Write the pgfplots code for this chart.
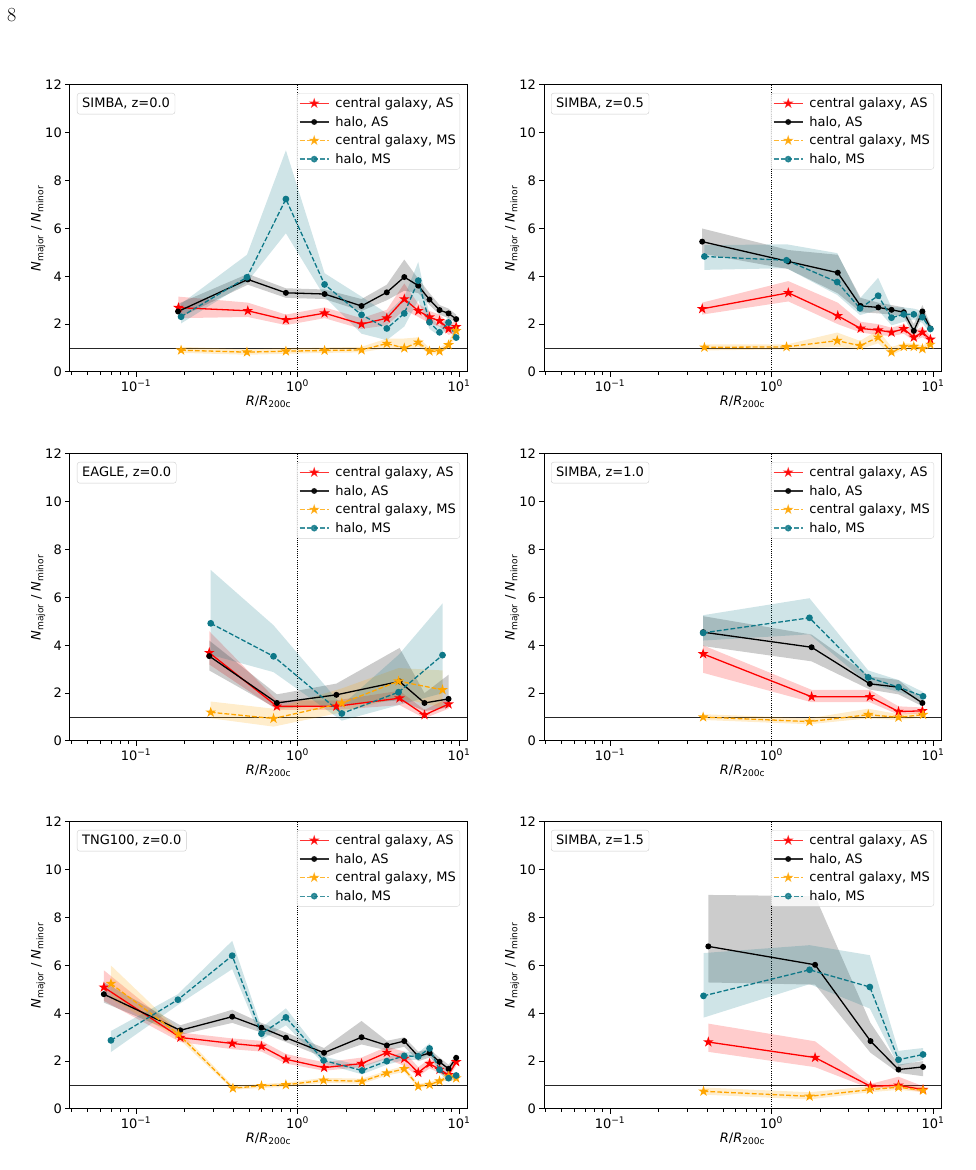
\documentclass[border=0pt]{standalone}
\usepackage{fontspec}
\newfontfamily\dejavu{DejaVu Sans}
\usepackage{pgfplots}
\pgfplotsset{compat=1.18}

\definecolor{mplorange}{RGB}{255,165,0}
\definecolor{tealc}{RGB}{14,120,136}

\pgfdeclareplotmark{fstar}{%
 \pgfpathmoveto{\pgfpointpolar{90}{\pgfplotmarksize}}%
 \pgfpathlineto{\pgfpointpolar{126}{0.382*\pgfplotmarksize}}%
 \pgfpathlineto{\pgfpointpolar{162}{\pgfplotmarksize}}%
 \pgfpathlineto{\pgfpointpolar{198}{0.382*\pgfplotmarksize}}%
 \pgfpathlineto{\pgfpointpolar{234}{\pgfplotmarksize}}%
 \pgfpathlineto{\pgfpointpolar{270}{0.382*\pgfplotmarksize}}%
 \pgfpathlineto{\pgfpointpolar{306}{\pgfplotmarksize}}%
 \pgfpathlineto{\pgfpointpolar{342}{0.382*\pgfplotmarksize}}%
 \pgfpathlineto{\pgfpointpolar{18}{\pgfplotmarksize}}%
 \pgfpathlineto{\pgfpointpolar{54}{0.382*\pgfplotmarksize}}%
 \pgfpathclose
 \pgfusepathqfillstroke
}

\newcommand{\chartfont}{\dejavu\fontsize{13}{15}\selectfont}

\pgfplotsset{
 legend image code/.code={\draw[mark repeat=2,mark phase=2,#1] plot coordinates {(0pt,0pt) (14.5pt,0pt) (29pt,0pt)};},
}

% band: colour, polygon (upper edge left->right, lower edge right->left)
\newcommand{\band}[2]{\addplot[fill=#1, fill opacity=0.2, draw=none, forget plot] coordinates {#2};}
\newcommand{\lcr}[1]{\addplot[red, line width=1.3pt, mark=fstar, mark size=3.5pt] coordinates {#1};
 \addlegendentry{central galaxy, AS}}
\newcommand{\lhr}[1]{\addplot[black, line width=1.3pt, mark=*, mark size=2.3pt] coordinates {#1};
 \addlegendentry{halo, AS}}
\newcommand{\lcm}[1]{\addplot[mplorange, line width=1.3pt, dash pattern=on 4.8pt off 2.1pt, mark=fstar, mark size=3.5pt, mark options={solid}] coordinates {#1};
 \addlegendentry{central galaxy, MS}}
\newcommand{\lhm}[1]{\addplot[tealc, line width=1.3pt, dash pattern=on 4.8pt off 2.1pt, mark=*, mark size=2.7pt, mark options={solid}] coordinates {#1};
 \addlegendentry{halo, MS}}

\newcommand{\panel}[3]{%
\begin{axis}[
  at={(#1)}, anchor=south west,
  width=397pt, height=287pt, scale only axis,
  xmode=log, xmin=0.039, xmax=11.2, ymin=0, ymax=12,
  ytick={0,2,4,6,8,10,12},
  yticklabels={0,2,4,6,8,10,12},
  xtick={0.1,1,10},
  xticklabels={10\textsuperscript{−1},10\textsuperscript{0},10\textsuperscript{1}},
  minor xtick={0.04,0.05,0.06,0.07,0.08,0.09,0.2,0.3,0.4,0.5,0.6,0.7,0.8,0.9,2,3,4,5,6,7,8,9},
  tick align=outside, tick pos=left,
  major tick length=4.7pt, minor tick length=2.7pt,
  major tick style={line width=1pt, black},
  minor tick style={line width=0.8pt, black},
  axis line style={line width=1pt},
  ticklabel style={font=\chartfont},
  label style={font=\chartfont},
  xlabel={\textit{R}/\textit{R}\textsubscript{200c}},
  ylabel={\textit{N}\textsubscript{major} / \textit{N}\textsubscript{minor}},
  xlabel style={at={(axis description cs:0.5,-0.1045)}, anchor=center},
  ylabel style={at={(axis description cs:-0.080,0.5)}, anchor=center},
  legend style={at={(0.9824,0.972)}, anchor=north east, draw=black!20,
    rounded corners=2.5pt, fill=white, fill opacity=0.8, draw opacity=0.8, text opacity=1,
    font=\chartfont, inner xsep=2pt, inner ysep=2.5pt, row sep=3.2pt,
    /tikz/every odd column/.append style={column sep=4pt}},
  legend cell align=left,
]
 \addplot[forget plot, black!85, line width=1pt] coordinates {(0.039,1) (11.2,1)};
 \addplot[forget plot, black, line width=0.8pt, dash pattern=on 1pt off 1.2pt] coordinates {(1,0) (1,12)};
 #3
 \node[anchor=north west, draw=black!20, rounded corners=2.5pt, fill=white, fill opacity=0.8,
   text opacity=1, font=\chartfont, inner xsep=5pt, inner ysep=4.5pt, text height=9.5pt, text depth=2.5pt,
   xshift=7pt, yshift=-8pt] at (rel axis cs:0,1) {#2};
\end{axis}}

\begin{document}
\begin{tikzpicture}
\useasboundingbox (0,0) rectangle (975pt,1170pt);
\node[anchor=base west, font=\fontsize{20}{24}\selectfont, inner sep=0pt] at (7pt,1148pt) {8};

% ---------- SIMBA z=0.0 ----------
\panel{70pt,798pt}{SIMBA, z=0.0}{
 \band{red}{(0.183,3.15) (0.492,2.90) (0.847,2.40) (1.47,2.70) (2.49,2.25) (3.57,2.60) (4.58,3.70) (5.59,2.85) (6.56,2.55) (7.57,2.40) (8.61,2.05) (9.6,2.10) (9.6,1.65) (8.61,1.55) (7.57,1.90) (6.56,2.05) (5.59,2.30) (4.58,2.60) (3.57,1.95) (2.49,1.80) (1.47,2.25) (0.847,1.96) (0.492,2.30) (0.183,2.25)}
 \band{black}{(0.182,2.85) (0.492,4.10) (0.847,3.50) (1.47,3.45) (2.49,3.05) (3.57,3.65) (4.58,4.70) (5.59,3.90) (6.56,3.30) (7.57,2.80) (8.61,2.65) (9.6,2.40) (9.6,2.05) (8.61,2.25) (7.57,2.40) (6.56,2.80) (5.59,3.30) (4.58,3.40) (3.57,3.00) (2.49,2.55) (1.47,3.05) (0.847,3.10) (0.492,3.65) (0.182,2.25)}
 \band{mplorange}{(0.19,1.05) (0.486,0.95) (0.847,1.00) (1.47,1.02) (2.49,1.05) (3.57,1.40) (4.58,1.40) (5.59,1.45) (6.56,1.00) (7.57,1.00) (8.61,1.30) (9.6,1.90) (9.6,1.50) (8.61,1.00) (7.57,0.77) (6.56,0.77) (5.59,1.05) (4.58,0.88) (3.57,1.00) (2.49,0.82) (1.47,0.80) (0.847,0.76) (0.486,0.72) (0.19,0.80)}
 \band{tealc}{(0.19,2.85) (0.486,4.90) (0.847,9.27) (1.47,4.13) (2.49,3.15) (3.57,2.45) (4.58,3.15) (5.59,4.60) (6.56,2.40) (7.57,1.90) (8.61,2.30) (9.6,1.70) (9.6,1.30) (8.61,1.80) (7.57,1.50) (6.56,1.80) (5.59,3.00) (4.58,1.90) (3.57,1.33) (2.49,1.60) (1.47,3.15) (0.847,5.80) (0.486,3.75) (0.19,2.03)}
 \lcr{(0.183,2.69) (0.492,2.56) (0.847,2.18) (1.47,2.46) (2.49,2.00) (3.57,2.25) (4.58,3.05) (5.59,2.56) (6.56,2.29) (7.57,2.14) (8.61,1.80) (9.6,1.89)}
 \lhr{(0.182,2.53) (0.492,3.87) (0.847,3.31) (1.47,3.26) (2.49,2.76) (3.57,3.33) (4.58,3.97) (5.59,3.61) (6.56,3.03) (7.57,2.59) (8.61,2.45) (9.6,2.21)}
 \lcm{(0.19,0.91) (0.486,0.83) (0.847,0.87) (1.47,0.90) (2.49,0.92) (3.57,1.19) (4.58,1.00) (5.59,1.24) (6.56,0.87) (7.57,0.87) (8.61,1.13) (9.6,1.72)}
 \lhm{(0.19,2.31) (0.486,3.96) (0.847,7.23) (1.47,3.66) (2.49,2.39) (3.57,1.82) (4.58,2.45) (5.59,3.82) (6.56,2.08) (7.57,1.66) (8.61,2.07) (9.6,1.44)}
}

% ---------- SIMBA z=0.5 ----------
\panel{544pt,798pt}{SIMBA, z=0.5}{
 \band{red}{(0.372,2.90) (1.27,3.80) (2.57,2.90) (3.56,2.10) (4.58,2.00) (5.53,1.85) (6.59,2.00) (7.6,1.70) (8.59,1.90) (9.63,1.50) (9.63,1.25) (8.59,1.45) (7.6,1.30) (6.59,1.60) (5.53,1.50) (4.58,1.55) (3.56,1.65) (2.57,2.00) (1.27,2.95) (0.372,2.40)}
 \band{black}{(0.372,6.00) (1.27,5.10) (2.57,4.90) (3.56,3.10) (4.58,2.90) (5.53,2.80) (6.59,2.70) (7.6,2.00) (8.59,2.80) (9.63,2.00) (9.63,1.70) (8.59,2.30) (7.6,1.50) (6.59,2.30) (5.53,2.40) (4.58,2.45) (3.56,2.50) (2.57,3.29) (1.27,4.30) (0.372,4.95)}
 \band{mplorange}{(0.384,1.15) (1.238,1.15) (2.55,1.65) (3.53,1.30) (4.57,1.75) (5.53,1.05) (6.59,1.20) (7.6,1.20) (8.59,1.10) (9.63,1.30) (9.63,1.00) (8.59,0.88) (7.6,0.95) (6.59,0.95) (5.53,0.70) (4.57,1.20) (3.53,0.95) (2.55,1.05) (1.238,0.95) (0.384,0.90)}
 \band{tealc}{(0.384,5.30) (1.238,5.34) (2.55,4.97) (3.53,3.08) (4.57,3.94) (5.53,2.70) (6.59,2.70) (7.6,2.65) (8.59,2.55) (9.63,2.00) (9.63,1.60) (8.59,2.05) (7.6,2.20) (6.59,2.10) (5.53,1.95) (4.57,2.59) (3.53,2.38) (2.55,3.22) (1.238,4.34) (0.384,4.27)}
 \lcr{(0.372,2.64) (1.27,3.31) (2.57,2.35) (3.56,1.82) (4.58,1.75) (5.53,1.66) (6.59,1.80) (7.6,1.45) (8.59,1.66) (9.63,1.36)}
 \lhr{(0.372,5.45) (1.27,4.62) (2.57,4.15) (3.56,2.76) (4.58,2.70) (5.53,2.60) (6.59,2.50) (7.6,1.72) (8.59,2.53) (9.63,1.82)}
 \lcm{(0.384,1.03) (1.238,1.05) (2.55,1.31) (3.53,1.10) (4.57,1.45) (5.53,0.83) (6.59,1.06) (7.6,1.06) (8.59,0.97) (9.63,1.15)}
 \lhm{(0.384,4.83) (1.238,4.67) (2.55,3.76) (3.53,2.66) (4.57,3.19) (5.53,2.27) (6.59,2.41) (7.6,2.41) (8.59,2.29) (9.63,1.80)}
}

% ---------- EAGLE z=0.0 ----------
\panel{70pt,429pt}{EAGLE, z=0.0}{
 \band{red}{(0.284,4.59) (0.745,1.70) (1.74,1.70) (4.28,2.10) (6.11,1.30) (8.61,1.80) (8.61,1.35) (6.11,0.95) (4.28,1.50) (1.74,1.30) (0.745,1.30) (0.284,3.20)}
 \band{black}{(0.284,4.20) (0.745,1.95) (1.74,2.40) (4.28,3.89) (6.11,2.00) (8.61,2.77) (8.61,1.40) (6.11,1.25) (4.28,1.70) (1.74,1.50) (0.745,1.35) (0.284,2.95)}
 \band{mplorange}{(0.29,1.65) (0.71,1.35) (1.88,2.20) (4.22,3.05) (7.9,2.95) (7.9,1.40) (4.22,1.80) (1.88,1.20) (0.71,0.60) (0.29,0.95)}
 \band{tealc}{(0.29,7.15) (0.71,4.84) (1.88,1.50) (4.22,3.60) (7.9,5.75) (7.9,2.00) (4.22,1.50) (1.88,0.85) (0.71,2.88) (0.29,3.60)}
 \lcr{(0.284,3.69) (0.745,1.45) (1.74,1.45) (4.28,1.79) (6.11,1.09) (8.61,1.54)}
 \lhr{(0.284,3.55) (0.745,1.59) (1.74,1.93) (4.28,2.49) (6.11,1.59) (8.61,1.76)}
 \lcm{(0.29,1.20) (0.71,0.94) (1.88,1.58) (4.22,2.50) (7.9,2.14)}
 \lhm{(0.29,4.92) (0.71,3.54) (1.88,1.15) (4.22,2.04) (7.9,3.59)}
}

% ---------- SIMBA z=1.0 ----------
\panel{544pt,429pt}{SIMBA, z=1.0}{
 \band{red}{(0.377,4.00) (1.77,2.14) (4.06,2.14) (6.11,1.45) (8.59,1.40) (8.59,1.15) (6.11,1.10) (4.06,1.62) (1.77,1.62) (0.377,2.85)}
 \band{black}{(0.377,5.22) (1.77,4.45) (4.06,2.70) (6.11,2.55) (8.59,1.75) (8.59,1.45) (6.11,1.95) (4.06,2.15) (1.77,3.33) (0.377,3.97)}
 \band{mplorange}{(0.377,1.12) (1.717,0.95) (3.97,1.35) (6.11,1.12) (8.67,1.22) (8.67,0.98) (6.11,0.88) (3.97,0.95) (1.717,0.70) (0.377,0.88)}
 \band{tealc}{(0.377,5.26) (1.717,5.97) (3.97,2.95) (6.11,2.55) (8.67,2.05) (8.67,1.70) (6.11,2.05) (3.97,2.40) (1.717,4.46) (0.377,4.20)}
 \lcr{(0.377,3.64) (1.77,1.85) (4.06,1.85) (6.11,1.23) (8.59,1.26)}
 \lhr{(0.377,4.55) (1.77,3.92) (4.06,2.39) (6.11,2.25) (8.59,1.59)}
 \lcm{(0.377,1.00) (1.717,0.81) (3.97,1.10) (6.11,0.99) (8.67,1.10)}
 \lhm{(0.377,4.52) (1.717,5.15) (3.97,2.66) (6.11,2.25) (8.67,1.87)}
}

% ---------- TNG100 z=0.0 ----------
\panel{70pt,61pt}{TNG100, z=0.0}{
 \band{red}{(0.0632,5.80) (0.188,3.20) (0.394,2.95) (0.598,2.85) (0.847,2.30) (1.46,1.95) (2.49,2.15) (3.57,2.60) (4.58,2.40) (5.59,1.75) (6.57,2.10) (7.57,1.85) (8.61,1.60) (9.6,2.15) (9.6,1.80) (8.61,1.30) (7.57,1.50) (6.57,1.70) (5.59,1.35) (4.58,1.80) (3.57,2.10) (2.49,1.75) (1.46,1.60) (0.847,1.90) (0.598,2.40) (0.394,2.50) (0.188,2.80) (0.0632,4.52)}
 \band{black}{(0.0632,5.30) (0.188,3.50) (0.394,4.15) (0.598,3.60) (0.847,3.20) (1.46,2.55) (2.49,3.68) (3.57,2.85) (4.58,3.00) (5.59,2.40) (6.57,2.50) (7.57,2.15) (8.61,1.85) (9.6,2.30) (9.6,1.95) (8.61,1.50) (7.57,1.80) (6.57,2.15) (5.59,2.00) (4.58,2.60) (3.57,2.45) (2.49,2.70) (1.46,2.15) (0.847,2.80) (0.598,3.20) (0.394,3.60) (0.188,3.10) (0.0632,4.45)}
 \band{mplorange}{(0.0699,6.00) (0.183,3.30) (0.398,0.97) (0.598,1.05) (0.847,1.10) (1.45,1.30) (2.51,1.27) (3.57,1.60) (4.58,1.80) (5.59,1.05) (6.57,1.12) (7.57,1.27) (8.61,1.50) (9.6,1.40) (9.6,1.20) (8.61,1.25) (7.57,1.07) (6.57,0.93) (5.59,0.88) (4.58,1.55) (3.57,1.40) (2.51,1.05) (1.45,1.10) (0.847,0.92) (0.598,0.88) (0.398,0.80) (0.183,2.95) (0.0699,4.60)}
 \band{tealc}{(0.0699,3.26) (0.1816,4.80) (0.394,7.03) (0.598,3.40) (0.847,4.21) (1.45,2.20) (2.51,1.80) (3.57,2.15) (4.58,2.40) (5.59,2.35) (6.57,2.75) (7.57,1.80) (8.61,1.45) (9.6,1.55) (9.6,1.25) (8.61,1.15) (7.57,1.50) (6.57,2.30) (5.59,2.05) (4.58,2.05) (3.57,1.85) (2.51,1.45) (1.45,1.90) (0.847,3.50) (0.598,2.90) (0.394,5.85) (0.1816,4.35) (0.0699,2.38)}
 \lcr{(0.0632,5.09) (0.188,2.99) (0.394,2.74) (0.598,2.62) (0.847,2.08) (1.46,1.73) (2.49,1.90) (3.57,2.36) (4.58,2.11) (5.59,1.52) (6.57,1.90) (7.57,1.65) (8.61,1.43) (9.6,1.97)}
 \lhr{(0.0632,4.80) (0.188,3.29) (0.394,3.86) (0.598,3.40) (0.847,2.98) (1.46,2.35) (2.49,3.00) (3.57,2.66) (4.58,2.84) (5.59,2.20) (6.57,2.34) (7.57,1.97) (8.61,1.68) (9.6,2.14)}
 \lcm{(0.0699,5.24) (0.183,3.13) (0.398,0.87) (0.598,0.97) (0.847,1.01) (1.45,1.20) (2.51,1.16) (3.57,1.50) (4.58,1.68) (5.59,0.95) (6.57,1.02) (7.57,1.17) (8.61,1.37) (9.6,1.29)}
 \lhm{(0.0699,2.87) (0.1816,4.57) (0.394,6.41) (0.598,3.15) (0.847,3.83) (1.45,2.03) (2.51,1.61) (3.57,2.00) (4.58,2.22) (5.59,2.20) (6.57,2.53) (7.57,1.64) (8.61,1.29) (9.6,1.40)}
}

% ---------- SIMBA z=1.5 ----------
\panel{544pt,61pt}{SIMBA, z=1.5}{
 \band{red}{(0.406,3.57) (1.86,2.83) (4.1,1.05) (6.11,1.35) (8.67,0.95) (8.67,0.70) (6.11,0.90) (4.1,0.85) (1.86,1.75) (0.406,2.39)}
 \band{black}{(0.406,8.95) (1.86,8.90) (4.1,3.60) (6.11,1.86) (8.67,2.00) (8.67,1.37) (6.11,1.51) (4.1,2.35) (1.86,5.20) (0.406,5.29)}
 \band{mplorange}{(0.379,0.90) (1.72,0.70) (4.06,0.95) (6.11,1.05) (8.67,0.90) (8.67,0.70) (6.11,0.80) (4.06,0.70) (1.72,0.40) (0.379,0.60)}
 \band{tealc}{(0.379,6.52) (1.72,6.85) (4.06,6.43) (6.11,2.43) (8.67,2.55) (8.67,2.05) (6.11,1.80) (4.06,4.20) (1.72,5.22) (0.379,3.82)}
 \lcr{(0.406,2.80) (1.86,2.15) (4.1,0.95) (6.11,0.99) (8.67,0.81)}
 \lhr{(0.406,6.80) (1.86,6.03) (4.1,2.84) (6.11,1.65) (8.67,1.76)}
 \lcm{(0.379,0.74) (1.72,0.53) (4.06,0.81) (6.11,0.91) (8.67,0.78)}
 \lhm{(0.379,4.73) (1.72,5.82) (4.06,5.10) (6.11,2.06) (8.67,2.28)}
}
\end{tikzpicture}
\end{document}
